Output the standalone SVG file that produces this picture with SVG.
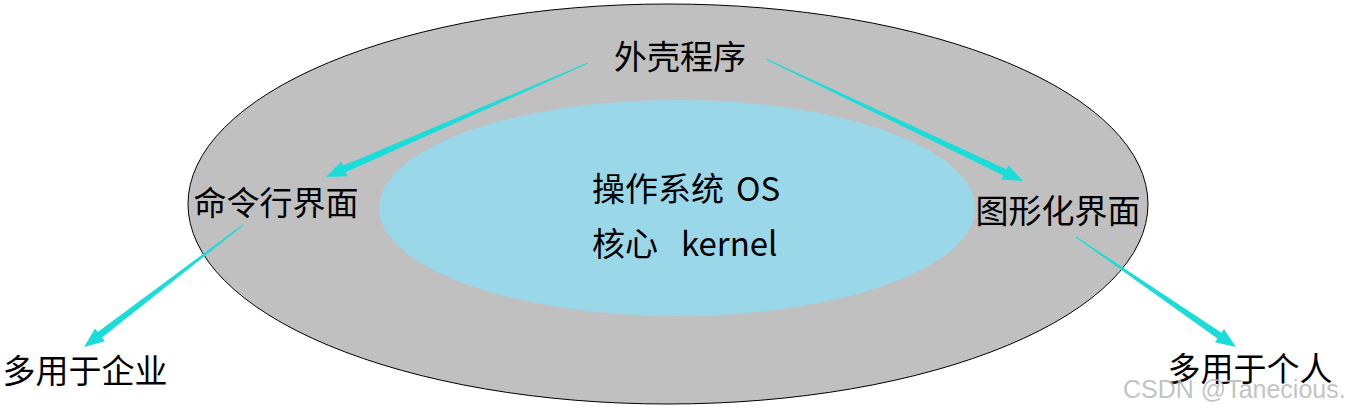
<svg xmlns="http://www.w3.org/2000/svg" width="1354" height="413" viewBox="0 0 1354 413">
  <style>
    .t { font-family: "Microsoft YaHei", "Noto Sans CJK SC", "Noto Sans", sans-serif; font-size: 33px; fill: #000; }
    .arrow { fill: #1ADCD8; stroke: none; }
    .wm { font-family: "Liberation Sans", Arial, sans-serif; font-size: 25px; fill: #b8b8b8; fill-opacity: 0.85; }
  </style>
  <rect width="1354" height="413" fill="#ffffff"/>
  <g id="shell">
    <ellipse cx="668" cy="204" rx="480" ry="200" fill="#C0C0C0" stroke="#000" stroke-width="1"/>
  </g>
  <g id="kernel">
    <ellipse cx="677" cy="208" rx="298" ry="108" fill="#9AD8E9"/>
    <text class="t" x="592" y="201">操作系统 <tspan x="736">OS</tspan></text>
    <text class="t" x="592" y="256">核心 <tspan x="681">kernel</tspan></text>
  </g>
  <g id="shell-label">
    <text class="t" x="680" y="69" text-anchor="middle">外壳程序</text>
  </g>
  <g id="cli">
    <text class="t" x="276" y="215" text-anchor="middle">命令行界面</text>
  </g>
  <g id="gui">
    <text class="t" x="1058" y="223" text-anchor="middle">图形化界面</text>
  </g>
  <g id="enterprise">
    <text class="t" x="85" y="383" text-anchor="middle">多用于企业</text>
  </g>
  <g id="personal">
    <text class="t" x="1250" y="381" text-anchor="middle">多用于个人</text>
  </g>
  <g id="connectors">
    <polygon class="arrow" points="587.8,62.5 342.9,165.8 341.1,161.7 326,177 347.5,176.3 345.7,172.2 588.2,63.5"/>
    <polygon class="arrow" points="765.8,59.5 1003.4,175.6 1001.5,179.6 1023,181 1008.3,165.2 1006.4,169.2 766.2,58.5"/>
    <polygon class="arrow" points="242.7,224.6 97.8,332.0 95.0,328.5 84,347 104.8,341.2 102.0,337.6 243.3,225.4"/>
    <polygon class="arrow" points="1075.7,237.4 1217.5,338.6 1215.0,342.3 1236,347 1224.0,329.1 1221.5,332.8 1076.3,236.6"/>
  </g>
  <text class="wm" x="1123" y="398">CSDN @Tanecious.</text>
</svg>
